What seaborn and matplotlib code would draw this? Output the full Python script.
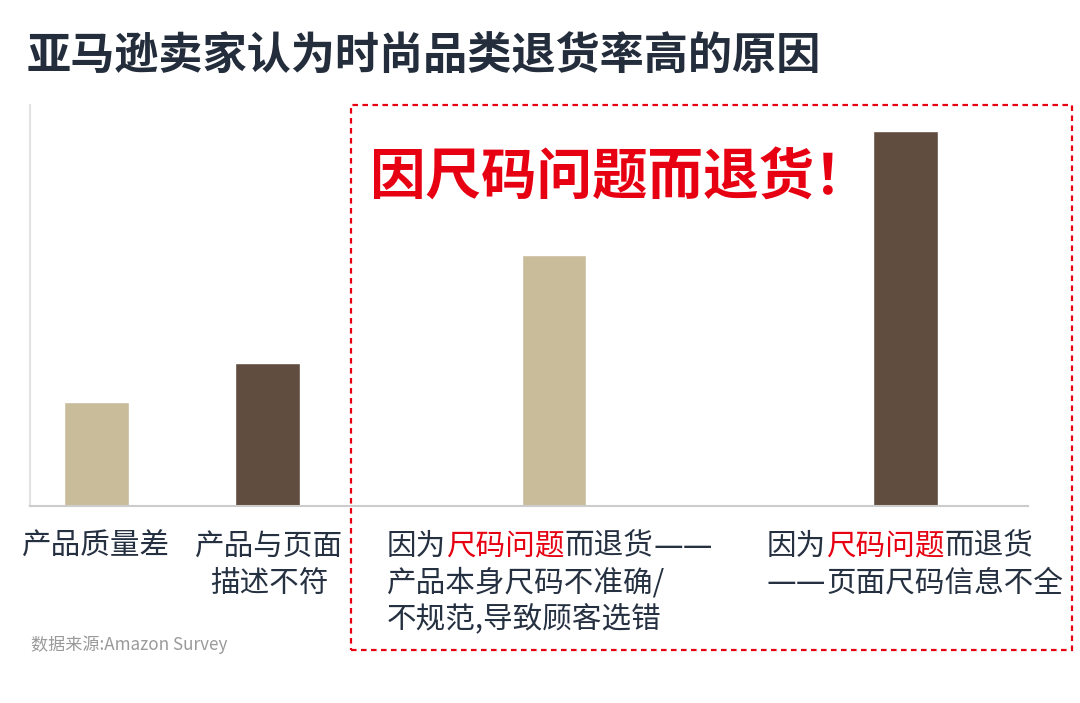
import matplotlib
matplotlib.use("Agg")
import matplotlib.pyplot as plt
import seaborn as sns
import pandas as pd
from matplotlib.patches import Rectangle

# --- data ---
categories = ["产品质量差", "产品与页面描述不符",
              "因为尺码问题而退货——产品本身尺码不准确/不规范,导致顾客选错",
              "因为尺码问题而退货——页面尺码信息不全"]
values = [13.9, 19.1, 33.5, 50.0]
bar_colors = ["#C8BC9B", "#604D3F", "#C8BC9B", "#604D3F"]
title = "亚马逊卖家认为时尚品类退货率高的原因"
callout = "因尺码问题而退货！"
source = "数据来源:Amazon Survey"

# bar centres on a 0-100 axis (layout only, bars are unevenly spaced)
x_pos = [6.7, 23.8, 52.5, 87.7]

df = pd.DataFrame({"pos": x_pos, "value": values, "category": categories})

sns.set_theme(style="white")
plt.rcParams["font.family"] = ["Noto Sans CJK SC", "DejaVu Sans"]

W, H = 1080, 703
dark = "#253041"
red = "#E60012"


def px(x, y):
    return x / W, 1 - y / H


fig = plt.figure(figsize=(W / 100, H / 100), dpi=100)
ax = fig.add_axes([30 / W, 197 / H, 998 / W, 401 / H])

sns.barplot(data=df, x="pos", y="value", hue="category", hue_order=categories,
            palette=dict(zip(categories, bar_colors)), native_scale=True,
            width=0.38, dodge=False, saturation=1, legend=False, ax=ax)

ax.set_xlim(0, 100)
ax.set_ylim(0, 53.5)
ax.set_xticks([])
ax.set_yticks([])
ax.set_xlabel("")
ax.set_ylabel("")
for s in ["top", "right"]:
    ax.spines[s].set_visible(False)
ax.spines["left"].set_color("#E3E3E3")
ax.spines["left"].set_linewidth(1.5)
ax.spines["bottom"].set_color("#CCCCCC")
ax.spines["bottom"].set_linewidth(1.5)

# title, callout, source
fig.text(*px(27, 57), title, fontsize=31.8, fontweight="bold", color="#232D3B", va="center")
fig.text(*px(370, 179), callout, fontsize=40, fontweight="heavy", color=red, va="center")
fig.text(*px(31, 645), source, fontsize=12.3, color="#9A9A9A", va="center")

# dashed highlight box
fig.patches.append(Rectangle(px(351, 650), (1072 - 351) / W, (650 - 105) / H,
                             transform=fig.transFigure, fill=False, ec=red,
                             lw=1.6, ls=(0, (2.5, 2))))

fs = 21.3
rows = [546, 583, 620]
DASH = "——"


def rich_line(x, y, parts):
    # full-width glyphs are 1 em wide, so each part starts fs points per char later
    n = 0
    for s, c in parts:
        fam = ["DejaVu Sans"] if s == DASH else ["Noto Sans CJK SC", "DejaVu Sans"]
        ax.annotate(s, xy=px(x, y), xycoords="figure fraction",
                    xytext=(n * fs, 0), textcoords="offset points",
                    va="center", ha="left", color=c, fontsize=fs, family=fam,
                    annotation_clip=False)
        n += len(s)


# category labels
fig.text(*px(96, rows[0]), "产品质量差", fontsize=fs, color=dark, ha="center", va="center")
fig.text(*px(269, rows[0]), "产品与页面", fontsize=fs, color=dark, ha="center", va="center")
fig.text(*px(269, rows[1]), "描述不符", fontsize=fs, color=dark, ha="center", va="center")

rich_line(387, rows[0], [("因为", dark), ("尺码问题", red), ("而退货", dark), (DASH, dark)])
rich_line(387, rows[1], [("产品本身尺码不准确/", dark)])
rich_line(387, rows[2], [("不规范,导致顾客选错", dark)])

rich_line(767, rows[0], [("因为", dark), ("尺码问题", red), ("而退货", dark)])
rich_line(767, rows[1], [(DASH, dark), ("页面尺码信息不全", dark)])

fig.savefig("out.png", dpi=100)
